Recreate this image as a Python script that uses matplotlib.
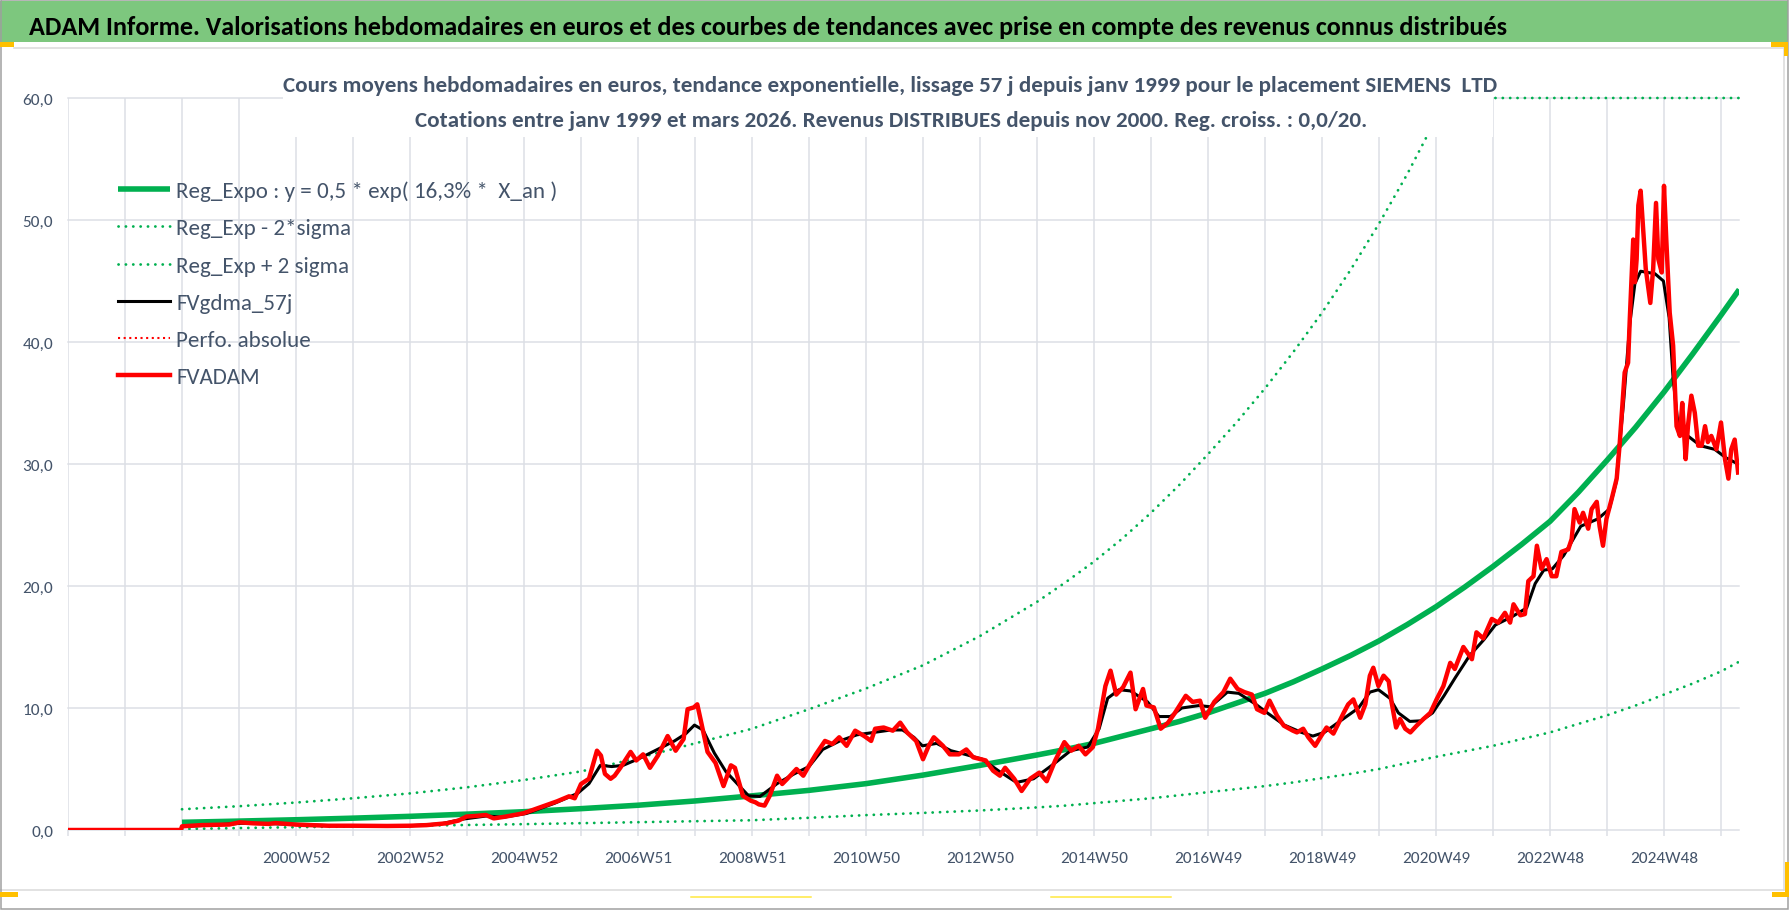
import matplotlib
matplotlib.use('Agg')
import matplotlib.pyplot as plt
from matplotlib import font_manager as fm
from matplotlib.font_manager import FontProperties
from matplotlib.lines import Line2D
from matplotlib.patches import Rectangle

# ---------------- DATA ----------------
banner_title = ("ADAM Informe. Valorisations hebdomadaires en euros et des courbes de "
                "tendances avec prise en compte des revenus connus distribués")
subtitle_1 = ("Cours moyens hebdomadaires en euros, tendance exponentielle, lissage 57 j "
              "depuis janv 1999 pour le placement SIEMENS  LTD")
subtitle_2 = ("Cotations entre janv 1999 et mars 2026. Revenus DISTRIBUES depuis nov 2000. "
              "Reg. croiss. : 0,0/20.")

legend_labels = ["Reg_Expo : y = 0,5 * exp( 16,3% *  X_an )", "Reg_Exp - 2*sigma",
                 "Reg_Exp + 2 sigma", "FVgdma_57j", "Perfo. absolue", "FVADAM"]

tick_labels = ["2000W52", "2002W52", "2004W52", "2006W51", "2008W51", "2010W50", "2012W50",
               "2014W50", "2016W49", "2018W49", "2020W49", "2022W48", "2024W48"]
y_ticks = [0, 10, 20, 30, 40, 50, 60]
y_labels = ["0,0", "10,0", "20,0", "30,0", "40,0", "50,0", "60,0"]

# trend curves (decimal year positions)
reg_years = [1998.96, 1999.96, 2000.96, 2001.96, 2002.96, 2003.96, 2004.96, 2005.96, 2006.96, 2007.96,
             2008.96, 2009.96, 2010.96, 2011.96, 2012.96, 2013.96, 2014.46, 2014.96, 2015.46, 2015.96,
             2016.46, 2016.96, 2017.46, 2017.96, 2018.46, 2018.96, 2019.46, 2019.96, 2020.46, 2020.96,
             2021.46, 2021.96, 2022.46, 2022.96, 2023.46, 2023.96, 2024.46, 2024.96, 2025.46, 2025.96,
             2026.28]
reg_expo = [0.63, 0.73, 0.84, 0.97, 1.12, 1.3, 1.5, 1.75, 2.03, 2.38,
            2.8, 3.25, 3.8, 4.5, 5.3, 6.15, 6.6, 7.1, 7.7, 8.3,
            8.9, 9.6, 10.4, 11.2, 12.15, 13.2, 14.3, 15.5, 16.85, 18.3,
            19.9, 21.6, 23.4, 25.3, 27.7, 30.3, 33.0, 35.9, 39.0, 42.2,
            44.3]
reg_minus = [0.08, 0.16, 0.23, 0.29, 0.35, 0.41, 0.48, 0.56, 0.64, 0.72,
             0.8, 1.0, 1.22, 1.4, 1.6, 1.85, 2.0, 2.2, 2.4, 2.6,
             2.85, 3.1, 3.35, 3.6, 3.9, 4.25, 4.6, 5.0, 5.5, 6.0,
             6.45, 6.9, 7.45, 8.0, 8.7, 9.4, 10.2, 11.1, 12.0, 13.0,
             13.8]
reg_plus = [1.7, 1.95, 2.25, 2.6, 3.0, 3.5, 4.1, 4.8, 5.9, 7.1,
            8.3, 9.9, 11.6, 13.5, 15.9, 18.7, 20.3, 22.0, 23.9, 26.0,
            28.3, 30.8, 33.4, 36.2, 39.2, 42.4, 45.9, 49.7, 53.8, 58.3,
            60.0, 60.0, 60.0, 60.0, 60.0, 60.0, 60.0, 60.0, 60.0, 60.0,
            60.0]

# FVADAM (red)
adam_x = [1996.96, 1998.94, 1998.96, 1999.3, 1999.79, 1999.97, 2000.2, 2000.48, 2000.6, 2000.97,
          2001.52, 2001.96, 2002.56, 2002.96, 2003.25, 2003.6, 2003.81, 2003.95, 2004.16, 2004.29,
          2004.43, 2004.64, 2004.95, 2005.13, 2005.33, 2005.54, 2005.75, 2005.85, 2005.96, 2006.1,
          2006.24, 2006.31, 2006.38, 2006.48, 2006.55, 2006.65, 2006.83, 2006.93, 2007.05, 2007.17,
          2007.31, 2007.48, 2007.62, 2007.76, 2007.83, 2007.94, 2008.0, 2008.07, 2008.18, 2008.32,
          2008.46, 2008.59, 2008.66, 2008.8, 2008.94, 2009.02, 2009.08, 2009.18, 2009.27, 2009.4,
          2009.49, 2009.58, 2009.74, 2009.86, 2009.96, 2010.08, 2010.24, 2010.37, 2010.49, 2010.62,
          2010.77, 2010.93, 2011.05, 2011.12, 2011.27, 2011.43, 2011.56, 2011.68, 2011.84, 2011.96,
          2012.06, 2012.15, 2012.31, 2012.43, 2012.59, 2012.72, 2012.84, 2013.06, 2013.19, 2013.31,
          2013.4, 2013.56, 2013.69, 2013.84, 2014.0, 2014.13, 2014.28, 2014.44, 2014.56, 2014.69,
          2014.81, 2014.94, 2015.03, 2015.16, 2015.25, 2015.35, 2015.47, 2015.6, 2015.69, 2015.82,
          2015.88, 2016.01, 2016.13, 2016.26, 2016.38, 2016.57, 2016.69, 2016.82, 2016.91, 2017.07,
          2017.23, 2017.35, 2017.48, 2017.6, 2017.73, 2017.82, 2017.95, 2018.04, 2018.17, 2018.29,
          2018.45, 2018.52, 2018.63, 2018.72, 2018.84, 2018.93, 2019.04, 2019.16, 2019.34, 2019.42,
          2019.51, 2019.63, 2019.72, 2019.8, 2019.86, 2019.95, 2020.04, 2020.13, 2020.18, 2020.26,
          2020.33, 2020.42, 2020.51, 2020.62, 2020.74, 2020.86, 2020.97, 2021.09, 2021.21, 2021.29,
          2021.44, 2021.59, 2021.67, 2021.79, 2021.94, 2022.05, 2022.17, 2022.26, 2022.32, 2022.44,
          2022.52, 2022.58, 2022.67, 2022.73, 2022.81, 2022.9, 2022.99, 2023.07, 2023.16, 2023.28,
          2023.34, 2023.39, 2023.48, 2023.54, 2023.63, 2023.69, 2023.78, 2023.83, 2023.89, 2023.95,
          2024.04, 2024.13, 2024.18, 2024.27, 2024.33, 2024.36, 2024.42, 2024.45, 2024.48, 2024.51,
          2024.55, 2024.59, 2024.64, 2024.68, 2024.72, 2024.77, 2024.82, 2024.86, 2024.92, 2024.96,
          2025.0, 2025.06, 2025.12, 2025.18, 2025.24, 2025.28, 2025.34, 2025.38, 2025.44, 2025.5,
          2025.56, 2025.62, 2025.68, 2025.73, 2025.79, 2025.88, 2025.96, 2026.03, 2026.09, 2026.14,
          2026.2, 2026.26]
adam_y = [0, 0, 0.3, 0.4, 0.45, 0.63, 0.55, 0.5, 0.57, 0.44,
          0.35, 0.35, 0.33, 0.35, 0.4, 0.55, 0.77, 1.1, 1.17, 1.23,
          0.95, 1.1, 1.37, 1.67, 2.0, 2.35, 2.76, 2.6, 3.77, 4.2,
          6.5, 6.1, 4.6, 4.2, 4.45, 5.1, 6.4, 5.7, 6.2, 5.1,
          6.1, 7.7, 6.5, 7.46, 9.9, 10.05, 10.3, 8.8, 6.4, 5.5,
          3.6, 5.3, 5.1, 2.8, 2.4, 2.27, 2.1, 2.0, 2.8, 4.45,
          3.77, 4.2, 5.0, 4.45, 5.27, 6.2, 7.3, 7.05, 7.6, 6.9,
          8.14, 7.7, 7.3, 8.3, 8.4, 8.14, 8.8, 8.0, 7.3, 5.8,
          6.9, 7.6, 6.9, 6.2, 6.2, 6.6, 5.96, 5.7, 4.86, 4.45,
          5.1, 4.2, 3.2, 4.2, 4.7, 4.0, 5.7, 7.2, 6.5, 6.9,
          6.2, 6.8, 8.3, 11.8, 13.06, 11.1, 11.7, 12.9, 9.9, 11.56,
          10.2, 10.05, 8.3, 8.8, 9.6, 11.0, 10.5, 10.6, 9.2, 10.5,
          11.3, 12.4, 11.56, 11.3, 11.1, 9.9, 9.6, 10.6, 9.37, 8.55,
          8.14, 8.0, 8.3, 7.6, 6.9, 7.6, 8.4, 7.9, 9.6, 10.3,
          10.7, 9.2, 10.3, 12.65, 13.3, 11.8, 12.65, 12.2, 10.5, 8.4,
          9.1, 8.3, 8.0, 8.55, 9.1, 9.6, 10.7, 11.8, 13.7, 13.2,
          15.0, 14.0, 16.2, 15.7, 17.3, 17.0, 17.8, 17.0, 18.5, 17.6,
          17.7, 20.4, 20.8, 23.3, 21.4, 22.2, 20.8, 20.8, 22.8, 23.0,
          23.85, 26.3, 25.2, 26.0, 24.7, 26.3, 26.9, 24.9, 23.3, 25.5,
          27.1, 28.8, 31.5, 37.5, 38.3, 41.9, 48.4, 44.9, 46.8, 51.2,
          52.4, 49.5, 46.0, 44.6, 43.2, 46.0, 51.4, 46.8, 45.7, 52.8,
          48.4, 42.4, 39.7, 33.1, 32.3, 35.0, 30.4, 33.1, 35.6, 34.2,
          31.5, 31.5, 33.1, 31.8, 32.3, 31.2, 33.4, 30.4, 28.8, 31.2,
          32.0, 29.3]

# FVgdma_57j (black, smoothed)
gdma_x = [1996.96, 1998.94, 1998.96, 1999.5, 2000.0, 2000.5, 2001.0, 2001.5, 2002.0, 2003.0,
          2003.5, 2003.9, 2004.3, 2004.6, 2005.0, 2005.5, 2005.9, 2006.1, 2006.3, 2006.5,
          2006.7, 2007.0, 2007.3, 2007.6, 2007.8, 2007.95, 2008.1, 2008.3, 2008.5, 2008.7,
          2008.9, 2009.1, 2009.4, 2009.7, 2009.96, 2010.2, 2010.5, 2010.8, 2011.1, 2011.4,
          2011.6, 2011.8, 2011.95, 2012.2, 2012.45, 2012.7, 2013.0, 2013.3, 2013.6, 2013.9,
          2014.25, 2014.55, 2014.85, 2015.05, 2015.2, 2015.4, 2015.6, 2015.9, 2016.1, 2016.3,
          2016.5, 2016.8, 2017.0, 2017.3, 2017.5, 2017.8, 2018.0, 2018.3, 2018.6, 2018.8,
          2019.0, 2019.3, 2019.6, 2019.8, 2019.95, 2020.15, 2020.3, 2020.5, 2020.7, 2020.9,
          2021.1, 2021.3, 2021.55, 2021.8, 2022.0, 2022.3, 2022.55, 2022.7, 2022.85, 2023.0,
          2023.2, 2023.5, 2023.8, 2024.0, 2024.12, 2024.25, 2024.36, 2024.45, 2024.55, 2024.8,
          2024.95, 2025.05, 2025.12, 2025.2, 2025.35, 2025.6, 2025.85, 2026.05, 2026.26]
gdma_y = [0, 0, 0.3, 0.4, 0.55, 0.52, 0.45, 0.37, 0.35, 0.36,
          0.5, 0.9, 1.15, 1.05, 1.35, 2.2, 3.0, 3.8, 5.3, 5.2,
          5.3, 5.9, 6.6, 7.3, 7.9, 8.6, 8.2, 6.3, 4.8, 3.8,
          2.8, 2.75, 3.8, 4.6, 5.2, 6.6, 7.3, 7.8, 8.0, 8.2,
          8.2, 7.6, 6.9, 7.1, 6.5, 6.2, 5.8, 4.8, 3.9, 4.2,
          5.4, 6.5, 6.8, 8.3, 10.8, 11.5, 11.4, 10.5, 9.3, 9.3,
          10.0, 10.2, 10.1, 11.3, 11.2, 10.3, 9.6, 8.6, 8.0, 7.7,
          8.0, 9.0, 10.0, 11.3, 11.5, 10.8, 9.6, 8.9, 8.95, 9.6,
          11.0, 12.5, 14.3, 15.6, 16.8, 17.5, 18.2, 20.2, 21.3, 21.4,
          22.5, 24.9, 25.5, 26.3, 28.5, 35.0, 41.5, 44.8, 45.8, 45.6,
          45.0, 42.0, 37.0, 33.5, 32.4, 31.5, 31.2, 30.5, 30.0]

assert len(reg_years) == len(reg_expo) == len(reg_minus) == len(reg_plus)
assert len(adam_x) == len(adam_y)
assert len(gdma_x) == len(gdma_y)

# ---------------- STYLE ----------------
def pick(*names):
    for n in names:
        try:
            fm.findfont(FontProperties(family=n), fallback_to_default=False)
            return n
        except Exception:
            continue
    return 'DejaVu Sans'

FONT = pick('Carlito', 'Liberation Sans Narrow', 'Lato', 'DejaVu Sans')
plt.rcParams['font.family'] = [FONT, 'DejaVu Sans']

W, H = 1790, 912
PX = 72.0 / 100.0            # points per pixel at dpi 100
GREEN = '#00B050'
RED = '#FF0000'
GRID = '#DCDFE5'
SLATE = '#44546A'
DOT = (0, (0.05, 2.6))

fig = plt.figure(figsize=(W / 100, H / 100), dpi=100)
fig.patch.set_facecolor('white')


def rect_px(x0, y0, x1, y1, **kw):
    r = Rectangle((x0 / W, 1 - y1 / H), (x1 - x0) / W, (y1 - y0) / H,
                  transform=fig.transFigure, **kw)
    fig.add_artist(r)
    return r


def line_px(xs, ys, **kw):
    fig.add_artist(Line2D([x / W for x in xs], [1 - y / H for y in ys],
                          transform=fig.transFigure, **kw))


# ---------------- AXES ----------------
AX_L, AX_R, AX_T, AX_B = 68, 1739, 99, 831
ax = fig.add_axes([AX_L / W, 1 - AX_B / H, (AX_R - AX_L) / W, (AX_B - AX_T) / H])
x_start = 1996.96
x_end = x_start + (AX_R - AX_L) / 57.0
ax.set_xlim(x_start, x_end)
ax.set_ylim(0, 60)

grid_pos = [x_start + k for k in range(30)]
label_pos = [x_start + 4 + 2 * j for j in range(len(tick_labels))]
ax.set_xticks(label_pos)
ax.set_xticklabels(tick_labels)
ax.set_xticks(grid_pos, minor=True)
ax.set_yticks(y_ticks)
ax.set_yticklabels(y_labels)

for s in ax.spines.values():
    s.set_visible(False)
ax.set_axisbelow(True)
ax.grid(True, axis='x', which='both', color=GRID, lw=1.5 * PX)
ax.grid(True, axis='y', which='major', color=GRID, lw=1.5 * PX)
for gl in ax.get_ygridlines():
    gl.set_clip_on(False)
ax.tick_params(axis='x', which='both', length=6 * PX, width=1.5 * PX, color=GRID,
               direction='out', pad=12 * PX, labelcolor=SLATE, labelsize=14)
ax.tick_params(axis='y', length=0, pad=15 * PX, labelcolor=SLATE, labelsize=14)

l_mid, = ax.plot(reg_years, reg_expo, color=GREEN, lw=4.0, solid_capstyle='butt',
                 solid_joinstyle='round', zorder=3)
l_minus, = ax.plot(reg_years, reg_minus, color=GREEN, lw=2.0, ls=DOT,
                   dash_capstyle='round', zorder=3)
l_plus, = ax.plot(reg_years, reg_plus, color=GREEN, lw=2.0, ls=DOT,
                  dash_capstyle='round', zorder=3, clip_on=False)
l_gdma, = ax.plot(gdma_x, gdma_y, color='black', lw=2.2, solid_joinstyle='round', zorder=4)
l_perfo = Line2D([], [], color=RED, lw=1.5, ls=(0, (1.0, 1.7)))
l_adam, = ax.plot(adam_x, adam_y, color=RED, lw=3.2, solid_joinstyle='round', zorder=5)

handles = [l_mid, l_minus, l_plus, l_gdma, l_perfo, l_adam]

# ---------------- DECORATIONS ----------------
rect_px(0, 2, 1788, 43, facecolor='#7DC77E', edgecolor='none', zorder=1)
rect_px(283, 50, 1493, 138, facecolor='white', edgecolor='none', zorder=1)
line_px([14, 1784], [49, 49], color='#D9D9D9', lw=1.5 * PX, zorder=1)
line_px([1784, 1784], [49, 891], color='#D9D9D9', lw=1.5 * PX, zorder=1)
line_px([0, 1784], [891, 891], color='#D9D9D9', lw=1.5 * PX, zorder=1)
rect_px(0.7, 0.7, 1788.5, 910, facecolor='none', edgecolor='#9E9E9E', lw=1.5 * PX, zorder=2)
YEL = '#FFC000'
for (a, b, c, d) in [(0, 43, 14, 48), (1771, 43, 1788, 48), (1784, 43, 1788, 57),
                     (1785, 863, 1789, 898), (1772, 893, 1788, 898), (0, 893, 18, 898)]:
    rect_px(a, b, c, d, facecolor=YEL, edgecolor='none', zorder=2)
line_px([691, 811], [898, 898], color='#FFE83A', lw=1.5 * PX, zorder=2)
line_px([1051, 1171], [898, 898], color='#FFE83A', lw=1.5 * PX, zorder=2)

t_banner = fig.text(29 / W, 1 - 35 / H, banner_title, ha='left', va='baseline',
                    fontsize=20, fontweight='bold', color='black', zorder=5)
t_sub1 = fig.text(890 / W, 1 - 91.7 / H, subtitle_1, ha='center', va='baseline',
                  fontsize=16, fontweight='bold', color=SLATE, zorder=5)
t_sub2 = fig.text(891 / W, 1 - 126.7 / H, subtitle_2, ha='center', va='baseline',
                  fontsize=16, fontweight='bold', color=SLATE, zorder=5)

# ---------------- FIT TEXT SIZES TO THE REFERENCE ----------------
fig.canvas.draw()
r = fig.canvas.get_renderer()


def wpx(t):
    return t.get_window_extent(r).width


sub_fs = 16 * 1207.0 / wpx(t_sub1)
t_sub1.set_fontsize(sub_fs)
t_sub2.set_fontsize(sub_fs)

# banner: the part "ADAM ... et des" spans about 670 px in the reference
probe = fig.text(0, 0, "ADAM Informe. Valorisations hebdomadaires en euros et des",
                 fontsize=20, fontweight='bold')
fig.canvas.draw()
t_banner.set_fontsize(20 * 670.0 / wpx(probe))
probe.remove()

fs_x = 14 * 67.0 / wpx(ax.get_xticklabels()[0])
fs_y = 14 * 31.0 / wpx(ax.get_yticklabels()[-1])
tick_fs = 0.5 * (fs_x + fs_y)
ax.tick_params(axis='both', labelsize=tick_fs)


def make_legend(fs, spacing, anchor):
    fs_px = fs / PX
    return ax.legend(handles, legend_labels, loc='upper left', bbox_to_anchor=anchor,
                     bbox_transform=fig.transFigure, frameon=False, borderpad=0,
                     borderaxespad=0, handlelength=52.0 / fs_px, handletextpad=6.0 / fs_px,
                     labelspacing=spacing, labelcolor=SLATE,
                     prop=FontProperties(family=[FONT, 'DejaVu Sans'], size=fs))


anchor = (118.0 / W, 1 - 178.0 / H)
leg = make_legend(16, 0.4, anchor)
fig.canvas.draw()
leg_fs = 16 * 380.0 / wpx(leg.get_texts()[0])
leg = make_legend(leg_fs, 0.4, anchor)
fig.canvas.draw()
tx = leg.get_texts()
pitch = tx[0].get_window_extent(r).y0 - tx[1].get_window_extent(r).y0
spacing = 0.4 + (37.3 - pitch) / (leg_fs / PX)
leg = make_legend(leg_fs, spacing, anchor)
fig.canvas.draw()
bb0 = leg.get_texts()[0].get_window_extent(r)
cy = (bb0.y0 + bb0.y1) / 2.0
dy = (H - 191.7) - cy
lx = leg.get_window_extent(r).x0
dx = 118.0 - lx
anchor = (anchor[0] + dx / W, anchor[1] + dy / H)
leg = make_legend(leg_fs, spacing, anchor)

# x tick label vertical position: centre at y = 859 px from top
fig.canvas.draw()
lb = ax.get_xticklabels()[0].get_window_extent(r)
cur = (lb.y0 + lb.y1) / 2.0
target = H - 859.0
ax.tick_params(axis='x', which='both', pad=12 * PX + (cur - target) * PX)

fig.savefig('out.png', dpi=100, facecolor='white')
